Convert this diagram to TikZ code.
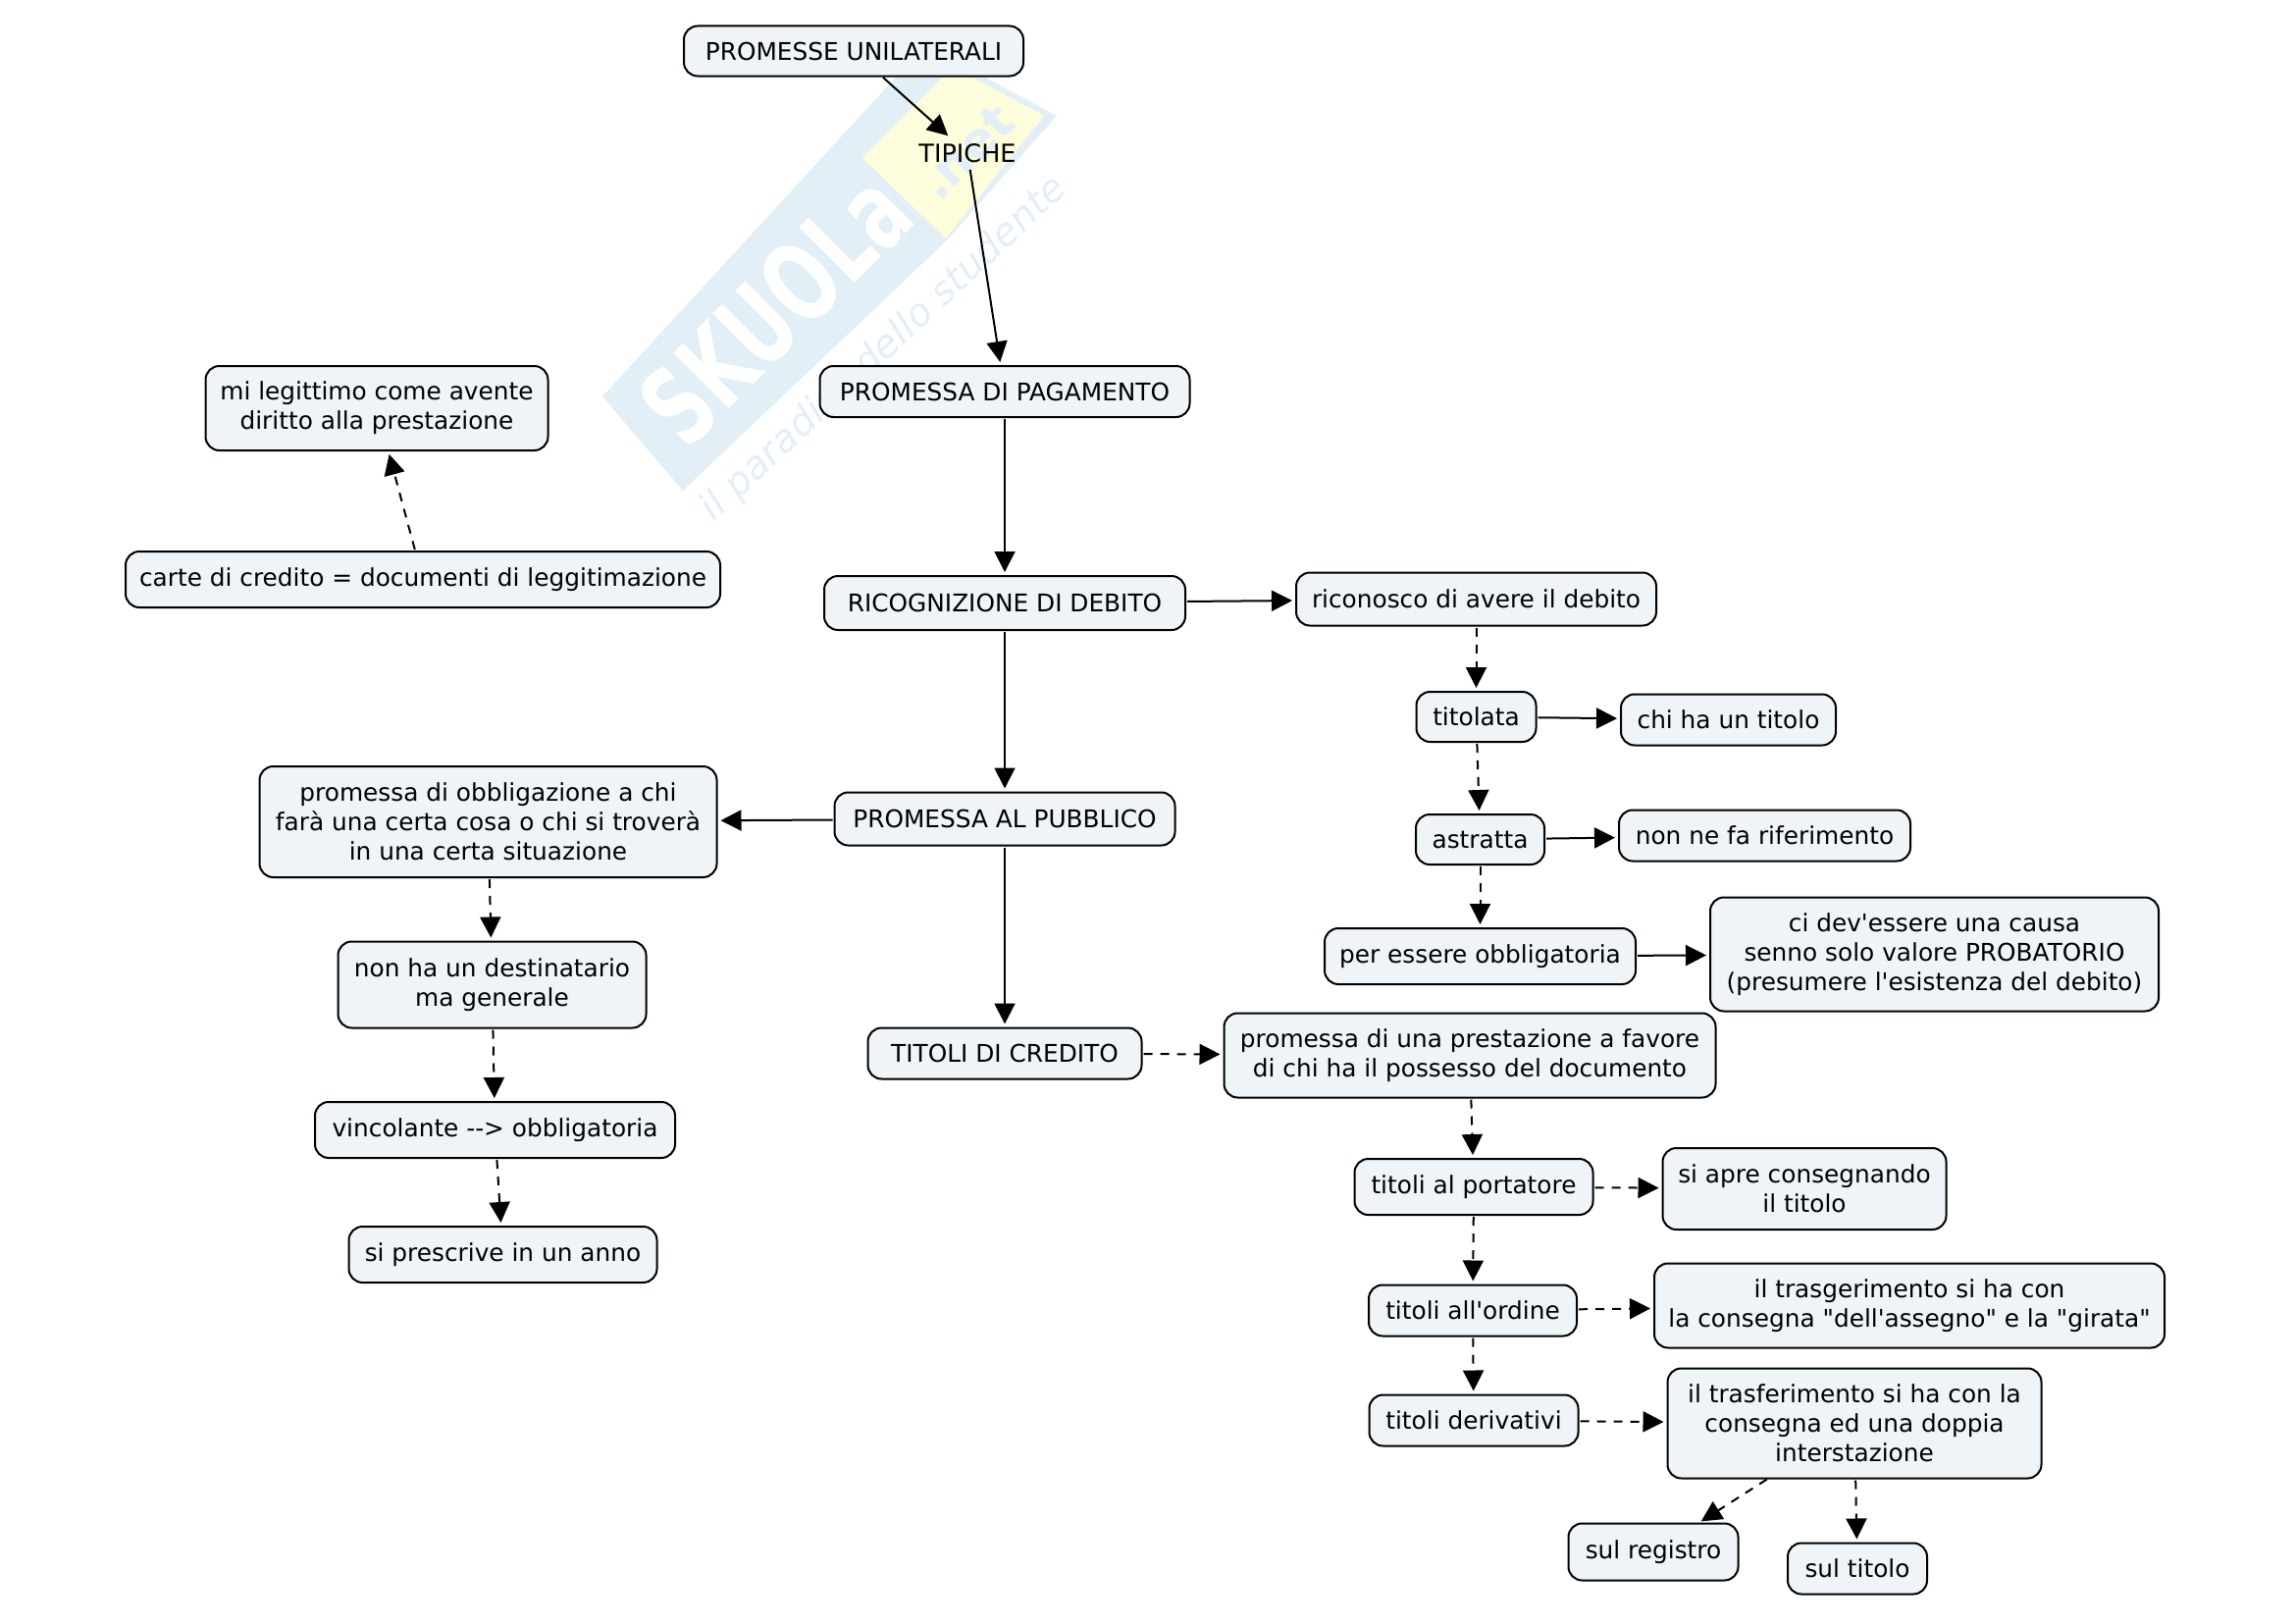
\documentclass[tikz,border=0pt]{standalone}
\usepackage{fontspec}
\setmainfont{DejaVu Sans}[Ligatures=TeXOff]
\usetikzlibrary{arrows.meta,positioning}
\definecolor{boxfill}{HTML}{EEF4F7}
\definecolor{markblue}{HTML}{E2EFF7}
\definecolor{markyellow}{HTML}{FDFDDC}
\tikzset{
	conceptbox/.style={draw=black,line width=2pt,fill=boxfill,rounded corners=14pt,align=center,inner sep=0pt,outer sep=0pt,font=\fontsize{24.8}{30}\selectfont},
	boxsize/.style 2 args={minimum width=#1pt,minimum height=#2pt},
	solidlink/.style={line width=2pt,-{Triangle[length=21pt,width=21pt]},shorten <=2pt,shorten >=4pt},
	dashlink/.style={solidlink,dash pattern=on 9pt off 8pt},
	markword/.style={inner sep=0pt,rotate=45}
}
\begin{document}
\begin{tikzpicture}[x=1pt,y=-1pt]
	\path[use as bounding box] (0,0) rectangle (2339,1654);
	\fill[markblue] (614,404) -- (943,46) -- (1077,118) -- (964,246) -- (696,500) -- cycle;
	\fill[markyellow] (879,161) -- (971,68) -- (1064,118) -- (964,243) -- cycle;
	\node[markword,white,font=\fontsize{110}{110}\selectfont\bfseries,xscale=.68] (20) at (790,314)
	{SKUOLa};
	\node[markword,markblue,font=\fontsize{50}{50}\selectfont\bfseries] (21) at (985,155)
	{.net};
	\node[markword,rotate=-2,markblue,font=\fontsize{39}{39}\selectfont\itshape] (22) at (901,356)
	{il paradiso dello studente};

	\node[conceptbox,boxsize={346}{51}] (1) at (870,52)
	{PROMESSE UNILATERALI};
	\node[boxsize={110}{30},inner sep=0pt,outer sep=0pt,font=\fontsize{25.5}{30}\selectfont] (2) [below=63.5pt of 1,xshift=116pt]
	{TIPICHE};
	\node[conceptbox,boxsize={377}{52}] (3) [below=202pt of 2,xshift=38pt]
	{PROMESSA DI PAGAMENTO};
	\node[conceptbox,boxsize={368}{55}] (4) [below=162pt of 3]
	{RICOGNIZIONE DI DEBITO};
	\node[conceptbox,boxsize={347}{54}] (5) [below=165.5pt of 4]
	{PROMESSA AL PUBBLICO};
	\node[conceptbox,boxsize={279}{52}] (6) [below=186pt of 5]
	{TITOLI DI CREDITO};

	\node[conceptbox,boxsize={606}{57}] (7) [left=106pt of 4,yshift=24pt]
	{carte di credito = documenti di leggitimazione};
	\node[conceptbox,boxsize={349}{86}] (8) [above=103pt of 7,xshift=-47pt]
	{mi legittimo come avente\\diritto alla prestazione};

	\node[conceptbox,boxsize={367}{54}] (9) [right=113pt of 4,yshift=4pt]
	{riconosco di avere il debito};
	\node[conceptbox,boxsize={122}{51}] (10) [below=67.5pt of 9]
	{titolata};
	\node[conceptbox,boxsize={219}{52}] (11) [right=86.5pt of 10,yshift=-3pt]
	{chi ha un titolo};
	\node[conceptbox,boxsize={131}{51}] (12) [below=74pt of 10,xshift=4pt]
	{astratta};
	\node[conceptbox,boxsize={297}{52}] (13) [right=76pt of 12,yshift=4pt]
	{non ne fa riferimento};
	\node[conceptbox,boxsize={317}{57}] (14) [below=65pt of 12]
	{per essere obbligatoria};
	\node[conceptbox,boxsize={457}{116}] (15) [right=76pt of 14,yshift=2pt]
	{ci dev'essere una causa\\senno solo valore PROBATORIO\\(presumere l'esistenza del debito)};

	\node[conceptbox,boxsize={466}{113}] (16) [left=120pt of 5,yshift=-3pt]
	{promessa di obbligazione a chi\\farà una certa cosa o chi si troverà\\in una certa situazione};
	\node[conceptbox,boxsize={314}{88}] (17) [below=65.5pt of 16,xshift=4pt]
	{non ha un destinatario\\ma generale};
	\node[conceptbox,boxsize={367}{57}] (18) [below=75.5pt of 17,xshift=3pt]
	{vincolante --> obbligatoria};
	\node[conceptbox,boxsize={314}{57}] (19) [below=70pt of 18,xshift=8pt]
	{si prescrive in un anno};

	\node[conceptbox,boxsize={501}{86}] (23) [right=84pt of 6,yshift=-2pt]
	{promessa di una prestazione a favore\\di chi ha il possesso del documento};
	\node[conceptbox,boxsize={243}{57}] (24) [below=62.5pt of 23,xshift=4pt]
	{titoli al portatore};
	\node[conceptbox,boxsize={289}{83}] (25) [right=71pt of 24,yshift=-2pt]
	{si apre consegnando\\il titolo};
	\node[conceptbox,boxsize={212}{52}] (26) [below=71.5pt of 24,xshift=-1pt]
	{titoli all'ordine};
	\node[conceptbox,boxsize={520}{86}] (27) [right=79pt of 26,yshift=5pt]
	{il trasgerimento si ha con\\la consegna "dell'assegno" e la "girata"};
	\node[conceptbox,boxsize={213}{52}] (28) [below=60pt of 26,xshift=1pt]
	{titoli derivativi};
	\node[conceptbox,boxsize={381}{112}] (29) [right=91pt of 28,yshift=-3pt]
	{il trasferimento si ha con la\\consegna ed una doppia\\interstazione};
	\node[conceptbox,boxsize={173}{58}] (30) [below=46pt of 29,xshift=-205pt]
	{sul registro};
	\node[conceptbox,boxsize={142}{52}] (31) [below=66pt of 29,xshift=3pt]
	{sul titolo};

	\draw[solidlink] (1) -- (2);
	\draw[solidlink] (2) -- (3);
	\draw[solidlink] (3) -- (4);
	\draw[solidlink] (4) -- (5);
	\draw[solidlink] (5) -- (6);
	\draw[solidlink] (4) -- (9);
	\draw[solidlink] (10) -- (11);
	\draw[solidlink] (12) -- (13);
	\draw[solidlink] (14) -- (15);
	\draw[solidlink] (5) -- (16);
	\draw[dashlink] (7) -- (8);
	\draw[dashlink] (9) -- (10);
	\draw[dashlink] (10) -- (12);
	\draw[dashlink] (12) -- (14);
	\draw[dashlink] (16) -- (17);
	\draw[dashlink] (17) -- (18);
	\draw[dashlink] (18) -- (19);
	\draw[dashlink] (6) -- (23);
	\draw[dashlink] (23) -- (24);
	\draw[dashlink] (24) -- (25);
	\draw[dashlink] (24) -- (26);
	\draw[dashlink] (26) -- (27);
	\draw[dashlink] (26) -- (28);
	\draw[dashlink] (28) -- (29);
	\draw[dashlink] (29) -- (30);
	\draw[dashlink] (29) -- (31);
\end{tikzpicture}
\end{document}
